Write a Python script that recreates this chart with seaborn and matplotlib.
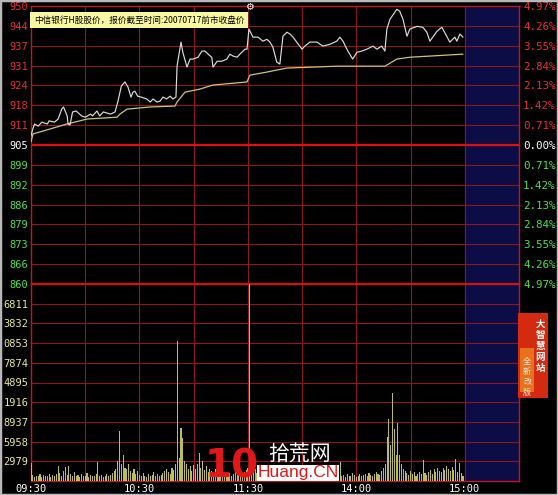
import matplotlib
matplotlib.use("Agg")
import matplotlib.pyplot as plt
from matplotlib.patches import Rectangle
import seaborn as sns
import pandas as pd

# intraday price line (minute since 09:30, price)
price_minutes = [0, 1, 2, 4, 6, 9, 10, 13, 15, 17, 18, 20, 20.5, 21.6, 23, 25, 28, 30, 33, 34, 36.5, 38, 40, 44,
                 46.5, 48, 50, 52, 53.7, 55.3, 56.4, 57.5, 59, 61, 64, 66, 67.5, 69.7, 71.4, 73, 75, 77, 78.5,
                 80.2, 80.8, 83, 84, 86.3, 88, 89.6, 92.4, 94.6, 96.2, 98, 100, 100.7, 103, 105.6, 108.4, 110,
                 111.7, 114, 115.6, 118.4, 119.5, 120.6, 122.8, 125.6, 128.3, 130.5, 132.2, 133.8, 136, 137.7,
                 139.4, 141.6, 143.3, 145, 147, 150, 151.5, 154.3, 158.2, 161.5, 165.4, 169.2, 170.9, 172.6,
                 175.3, 178, 180.3, 183, 185.8, 189.2, 191.4, 194, 195.8, 196.9, 198.6, 202.4, 204, 205.8, 208,
                 209.6, 213.5, 216.8, 219, 220.7, 224.6, 227.3, 230, 231.7, 234.5, 235.6, 237.3, 239]
price_values = [907.9, 910.2, 911.8, 911.1, 912.4, 911.8, 912.8, 912.4, 913.4, 916.6, 917.3, 914.4, 911.8, 911.5,
                915.7, 916.0, 914.4, 914.0, 915.0, 914.4, 916.0, 914.4, 915.7, 915.0, 915.7, 918.9, 924.1, 925.4,
                923.7, 920.5, 922.1, 922.4, 920.8, 920.5, 919.9, 918.9, 919.9, 918.9, 919.2, 920.5, 919.9, 920.8,
                919.9, 920.5, 930.5, 938.3, 935.0, 930.2, 932.8, 932.8, 933.4, 935.4, 935.4, 934.4, 933.4, 930.2,
                932.1, 932.1, 932.8, 934.4, 933.8, 933.4, 934.4, 936.0, 936.0, 942.5, 939.9, 939.9, 938.6, 939.2,
                938.3, 936.7, 931.8, 931.2, 940.2, 941.5, 940.9, 939.9, 938.3, 936.0, 937.0, 938.3, 938.3, 937.0,
                937.6, 938.6, 939.9, 938.6, 935.4, 932.8, 935.0, 935.4, 936.0, 937.0, 936.0, 937.0, 935.4, 942.5,
                945.7, 948.9, 948.3, 945.7, 940.2, 942.5, 943.4, 943.1, 941.5, 938.6, 941.8, 943.1, 940.2, 938.3,
                939.9, 938.6, 940.9, 939.9]

# average price line
avg_minutes = [0, 1.1, 6.6, 19.9, 31, 47.6, 49.2, 53.1, 65.8, 79.6, 80.8, 85.2, 93.5, 100.7, 119.5, 121.1,
               130.5, 141.6, 169.2, 195.8, 202.4, 209.6, 239]
avg_values = [906.0, 908.6, 909.5, 911.8, 913.4, 914.0, 915.0, 916.6, 917.3, 917.6, 918.9, 922.1, 923.1, 924.4,
              925.4, 927.6, 928.6, 929.9, 930.5, 930.5, 932.8, 933.4, 934.4]

# volume per minute (240 minutes)
volume = [2700,
          900, 600, 800, 700, 1000, 600, 900, 700, 800, 1100, 600, 900, 700, 1000,
          2300, 1200, 800, 1500, 2100, 900, 2200,
          1100, 800, 1300, 700, 900, 600, 1000, 800, 700, 1200, 600, 900, 800, 700, 1000,
          2900, 700, 900, 600, 800, 1000, 700, 900, 1200, 1500, 1800,
          3000, 7600, 2500, 3900, 2000, 1800, 2600, 1500, 1200, 1800, 1000, 1500,
          900, 700, 1200, 800, 600, 1000, 700, 900, 1300, 800, 1100, 700, 900, 1200, 1500, 1800, 1400, 1000,
          2000, 1600,
          2500, 21200, 3500, 8000, 6500, 3000, 2500, 1800, 2200, 1500, 2400, 1800, 2600, 4300, 2000, 3000,
          1600, 2200, 1400, 1800,
          1500, 1200, 1800, 1000, 1400, 1100, 1600, 900, 1300, 1000, 1200, 800, 1100, 1500, 900, 1300, 1000,
          1200, 1400, 1600, 2000,
          31500,
          2200, 1500, 1800, 1200, 1000, 1400, 900, 1100, 800, 1000, 1200, 700, 900, 1100, 800, 1300, 1000, 700,
          900, 1200, 800, 1000, 1400, 900, 1100, 700, 1000, 1300, 900, 1200, 800, 1000, 700, 1100, 900, 1200,
          1000, 800, 1300, 900, 1100, 700, 1000, 800, 1200, 900, 1000, 1400, 1100, 2800,
          700, 900, 600, 1000, 800, 700, 1200, 900, 600, 800, 1100, 700, 900, 1000, 800, 1200, 900, 700, 1100,
          1300, 1000, 900, 1500, 2000, 2500,
          6700, 9400, 5500, 13300, 7800, 4000, 8800, 4000, 2500, 1800, 1500,
          1200, 900, 1500, 1000, 1300, 800, 1100, 1400, 1000, 3100, 1200, 900, 1300, 1600, 1100, 1800, 1400,
          2000, 1500, 1300, 1900, 1600, 2200, 1800, 1500, 2100, 1700, 3300, 1400, 2700, 1200, 800]

prev_close = 905
left_price_labels = ["950", "944", "937", "931", "924", "918", "911", "905",
                     "899", "892", "886", "879", "873", "866", "860"]
right_pct_labels = ["4.97%", "4.26%", "3.55%", "2.84%", "2.13%", "1.42%", "0.71%", "0.00%",
                    "0.71%", "1.42%", "2.13%", "2.84%", "3.55%", "4.26%", "4.97%"]
vol_labels = ["", "6811", "3832", "0853", "7874", "4895", "1916", "8937", "5958", "2979", ""]
time_labels = ["09:30", "", "10:30", "", "11:30", "", "14:00", "", "15:00", ""]
title_text = "中信银行H股股价，报价截至时间:20070717前市收盘价"

sns.set_style("dark")
plt.rcParams["font.family"] = ["DejaVu Sans Mono"]

W, H = 558, 495
fig = plt.figure(figsize=(W / 100, H / 100), dpi=100, facecolor="black")
axp = fig.add_axes([31 / W, 1 - 284 / H, 488 / W, 278 / H])
axv = fig.add_axes([31 / W, 1 - 481 / H, 488 / W, 197 / H], sharex=axp)

grid_red = "#8c1a1a"
step = prev_close * 0.0071
levels = [prev_close + step * k for k in range(7, -8, -1)]
vol_step = 2979
vol_levels = [vol_step * k for k in range(10, -1, -1)]

for ax in (axp, axv):
    ax.set_facecolor("black")
    ax.axvspan(240, 270, color="#0c0c46", zorder=0)
    for s in ax.spines.values():
        s.set_color("#c01818")
        s.set_linewidth(1)
    ax.set_xlim(0, 270)
    ax.set_xticks(range(0, 271, 30))
    ax.grid(True, color=grid_red, lw=0.8, zorder=1)
    ax.set_axisbelow(True)

# price panel
df_p = pd.DataFrame({"minute": price_minutes, "price": price_values})
df_a = pd.DataFrame({"minute": avg_minutes, "price": avg_values})
sns.lineplot(data=df_a, x="minute", y="price", color="#cfc27a", lw=0.9, ax=axp, zorder=3)
sns.lineplot(data=df_p, x="minute", y="price", color="#dcdcdc", lw=0.85, ax=axp, zorder=4)
axp.set_ylim(levels[-1], levels[0])
axp.set_yticks(levels)
axp.set_yticklabels(left_price_labels)
axp.axhline(prev_close, color="#e01010", lw=1.6, zorder=2)
axp.axhline(levels[-1], color="#e01010", lw=1.6, zorder=2)
axp.tick_params(axis="x", length=0, labelbottom=False)
axp.tick_params(axis="y", length=0, pad=2, labelsize=7.5)
for i, t in enumerate(axp.get_yticklabels()):
    t.set_color("#e83030" if i < 7 else ("white" if i == 7 else "#50e050"))
axp.set_xlabel("")
axp.set_ylabel("")

axr = axp.twinx()
axr.set_ylim(axp.get_ylim())
axr.set_yticks(levels)
axr.set_yticklabels(right_pct_labels)
axr.tick_params(axis="y", length=0, pad=3, labelsize=7.8)
for s in axr.spines.values():
    s.set_visible(False)
for i, t in enumerate(axr.get_yticklabels()):
    t.set_color("#e83030" if i < 7 else ("white" if i == 7 else "#50e050"))

# volume panel
df_v = pd.DataFrame({"minute": list(range(len(volume))), "volume": volume})
sns.barplot(data=df_v, x="minute", y="volume", native_scale=True, width=0.6,
            color="#bcbc58", saturation=1, edgecolor="none", ax=axv, zorder=3)
axv.set_ylim(0, vol_step * 10)
axv.set_yticks(vol_levels)
axv.set_yticklabels(vol_labels, color="#e8e890")
axv.set_xlim(0, 270)
axv.set_xticks(range(0, 271, 30))
axv.set_xticklabels(time_labels, color="white")
axv.tick_params(axis="x", length=0, pad=2, labelsize=7.5)
axv.tick_params(axis="y", length=0, pad=2, labelsize=7.5)
axv.set_xlabel("")
axv.set_ylabel("")

# header box
fig.text(34 / W, 1 - 20 / H, title_text, family=["Noto Sans CJK SC", "DejaVu Sans"], fontsize=6.2,
         color="black", va="center", ha="left",
         bbox=dict(boxstyle="square,pad=0.45", fc="#f8f8a0", ec="none"))
fig.text(249 / W, 1 - 7 / H, "\u2699", family=["DejaVu Sans"], fontsize=7, color="white",
         ha="center", va="center")

# watermark
fig.text(232 / W, 1 - 466 / H, "10", family=["DejaVu Sans"], fontsize=28, fontweight="bold",
         color="#e01818", ha="center", va="center")
fig.text(299 / W, 1 - 454 / H, "拾荒网", family=["Noto Sans CJK SC", "DejaVu Sans"], fontsize=15,
         color="white", ha="center", va="center")
fig.text(298 / W, 1 - 473 / H, "Huang.CN", family=["Liberation Sans"], fontsize=12.5, color="#e01818",
         ha="center", va="center", bbox=dict(boxstyle="square,pad=0.05", fc="white", ec="none"))

# side banner
fig.patches.append(Rectangle((518 / W, 1 - 398 / H), 30 / W, 85 / H, transform=fig.transFigure,
                             fc="#d42a10", ec="none", zorder=5))
fig.patches.append(Rectangle((520 / W, 1 - 392 / H), 14 / W, 44 / H, transform=fig.transFigure,
                             fc="#f08a20", ec="none", zorder=5, alpha=0.75))
fig.text(540 / W, 1 - 346 / H, "大\n智\n慧\n网\n站", family=["Noto Sans CJK SC", "DejaVu Sans"],
         fontsize=6.8, fontweight="bold", color="white", ha="center", va="center", linespacing=1.15,
         zorder=6)
fig.text(527 / W, 1 - 377 / H, "全\n新\n改\n版", family=["Noto Sans CJK SC", "DejaVu Sans"],
         fontsize=5.8, color="#ffe8e8", ha="center", va="center", linespacing=1.15, zorder=6)

# outer frame
fig.patches.append(Rectangle((0, 0), 1, 1, transform=fig.transFigure, fc="none", ec="#b8b8b8",
                             lw=2.5, zorder=7))

fig.savefig("out.png", dpi=100, facecolor="black")
